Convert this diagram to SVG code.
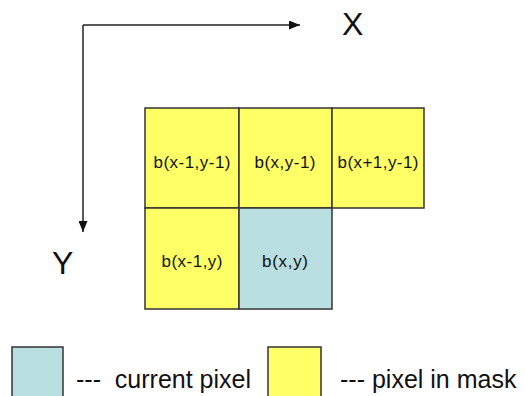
<svg xmlns="http://www.w3.org/2000/svg" width="525" height="396" viewBox="0 0 525 396">
<style>
.cell{stroke:#333;stroke-width:1.5}
.y{fill:#FFFF66}
.b{fill:#B9DFE1}
.t{font-family:"Liberation Sans",Arial,sans-serif;fill:#111}
.ct{font-size:17px;text-anchor:middle}
.ax{font-size:32px}
.lg{font-size:25px}
.axis{stroke:#222;stroke-width:1.5;fill:none}
</style>
<defs>
<marker id="ah" markerWidth="11" markerHeight="9" refX="11" refY="4.5" orient="auto" markerUnits="userSpaceOnUse">
<path d="M0,0 L11,4.5 L0,9 Z" fill="#111"/>
</marker>
</defs>
<rect width="525" height="396" fill="#fff"/>
<g id="connectors">
<path class="axis" d="M83,25 L300,25" marker-end="url(#ah)"/>
<path class="axis" d="M83,25 L83,232" marker-end="url(#ah)"/>
</g>
<g id="labelX"><text class="t ax" x="342" y="35">X</text></g>
<g id="labelY"><text class="t ax" x="52" y="274">Y</text></g>
<g id="n1"><rect class="cell y" x="145" y="108" width="94" height="100"/><text class="t ct" x="192" y="168" textLength="77">b(x-1,y-1)</text></g>
<g id="n2"><rect class="cell y" x="239" y="108" width="93" height="100"/><text class="t ct" x="285" y="168" textLength="61">b(x,y-1)</text></g>
<g id="n3"><rect class="cell y" x="332" y="108" width="92" height="100"/><text class="t ct" x="378" y="168" textLength="81">b(x+1,y-1)</text></g>
<g id="n4"><rect class="cell y" x="145" y="208" width="94" height="101"/><text class="t ct" x="192" y="267" textLength="61">b(x-1,y)</text></g>
<g id="n5"><rect class="cell b" x="239" y="208" width="93" height="101"/><text class="t ct" x="285" y="267" textLength="46">b(x,y)</text></g>
<g id="legend">
<rect class="cell b" x="12" y="347" width="51" height="55"/>
<text class="t lg" x="76" y="388" xml:space="preserve">---  current pixel</text>
<rect class="cell y" x="268" y="347" width="53" height="55"/>
<text class="t lg" x="340" y="388">--- pixel in mask</text>
</g>
</svg>
